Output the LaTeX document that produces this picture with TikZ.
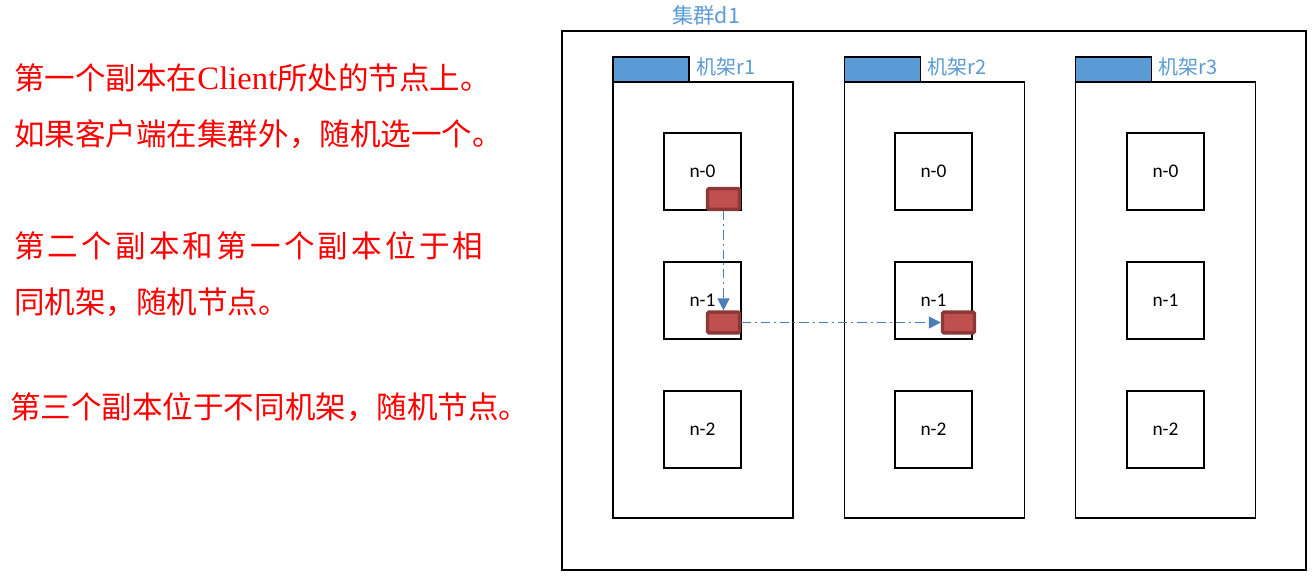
\documentclass[tikz,border=0pt]{standalone}
\usepackage{fontspec}
\setmainfont{Liberation Serif}
\newfontfamily\cjk{Noto Sans CJK SC}
\newfontfamily\calfont{Carlito}
\usetikzlibrary{arrows.meta}
\definecolor{lblue}{HTML}{5B9BD5}
\definecolor{ablue}{HTML}{4A7EBB}
\definecolor{rfill}{HTML}{C0504D}
\definecolor{rdraw}{HTML}{8C3836}
\begin{document}
\begin{tikzpicture}[x=0.75pt,y=-0.75pt,
  box/.style={draw=black,line width=1.1pt,fill=white,inner sep=0pt},
  cluster/.style={box,minimum width=558pt,minimum height=404.25pt},
  rack/.style={box,minimum width=135pt,minimum height=327pt},
  tab/.style={draw=black,line width=1.1pt,fill=lblue,inner sep=0pt,minimum width=57pt,minimum height=18.75pt},
  hnode/.style={box,minimum width=57.75pt,minimum height=57.75pt,font=\calfont\fontsize{14.5pt}{16pt}\selectfont},
  rep/.style={draw=rdraw,line width=2.6pt,fill=rfill,inner sep=0pt,minimum width=24pt,minimum height=15.5pt,rounded corners=1pt},
  lbl/.style={text=lblue,inner sep=0pt,anchor=west,font=\cjk\fontsize{15pt}{17pt}\selectfont},
  note/.style={text=red,inner sep=0pt,anchor=west,font=\cjk\fontsize{22.9pt}{26pt}\selectfont},
  flow/.style={draw=ablue,line width=1.1pt,dash pattern=on 7pt off 3pt on 1.5pt off 3pt,-{Triangle[length=9pt,width=9pt]}}
]
\useasboundingbox (0,0) rectangle (1315,580);
\node[cluster] (d1) at (934,300.5) {};
\node[lbl,anchor=center,font=\cjk\fontsize{16pt}{18pt}\selectfont] (d1l) at (706,15) {集群d1};
% racks
\foreach \r/\x in {1/703,2/934.5,3/1165.5}{
  \node[rack] (r\r) at (\x,300) {};
  \node[tab] (t\r) at (\x-52,69.5) {};
  \node[lbl] (l\r) at (\x-7,67) {机架r\r};
}
% nodes
\foreach \r/\x in {1/702.5,2/933.5,3/1165.5}{
  \node[hnode] (r\r n0) at (\x,171.5) {n-0};
  \node[hnode] (r\r n1) at (\x,300.5) {n-1};
  \node[hnode] (r\r n2) at (\x,429.5) {n-2};
}
% replicas
\node[rep] (p1) at (723.5,199) {};
\node[rep] (p2) at (723.5,322.5) {};
\node[rep] (p3) at (958.5,322.5) {};
\draw[flow] (p1.south) -- (p2.north);
\draw[flow] (p2.east) -- (p3.west);
% notes
\node[note] (a1) at (14,78) {第一个副本在{\fontspec{Liberation Serif}\fontsize{24.5pt}{26pt}\selectfont Client}所处的节点上。};
\node[note] (a2) at (14,134) {如果客户端在集群外，随机选一个。};
\node[note] (a3) at (14,246) {\addfontfeature{LetterSpace=10.5}第二个副本和第一个副本位于相};
\node[note] (a4) at (14,302) {同机架，随机节点。};
\node[note] (a5) at (10,407) {第三个副本位于不同机架，随机节点。};
\end{tikzpicture}
\end{document}
